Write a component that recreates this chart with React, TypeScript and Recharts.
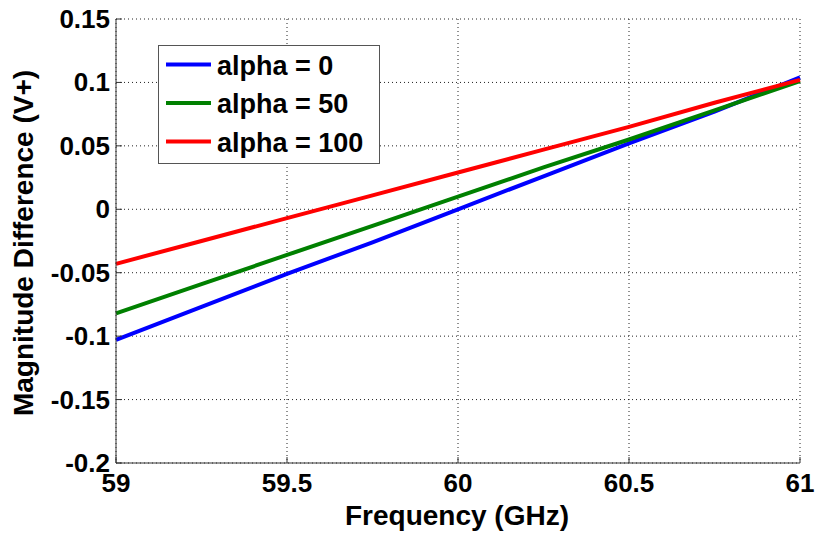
import React from "react";
import {
  LineChart,
  Line,
  XAxis,
  YAxis,
  CartesianGrid,
  Legend,
  Label,
} from "recharts";

const FREQ = [59, 59.25, 59.5, 59.75, 60, 60.25, 60.5, 60.75, 61];
const ALPHA_0 = [-0.103, -0.077, -0.051, -0.026, 0.0, 0.026, 0.052, 0.077, 0.104];
const ALPHA_50 = [-0.082, -0.059, -0.036, -0.013, 0.01, 0.033, 0.055, 0.078, 0.101];
const ALPHA_100 = [-0.043, -0.025, -0.007, 0.011, 0.029, 0.047, 0.065, 0.084, 0.102];

const X_TICKS = [59, 59.5, 60, 60.5, 61];
const Y_TICKS = [-0.2, -0.15, -0.1, -0.05, 0, 0.05, 0.1, 0.15];
const SERIES = [
  { key: "a0", name: "alpha = 0", color: "#0000FF", values: ALPHA_0 },
  { key: "a50", name: "alpha = 50", color: "#008000", values: ALPHA_50 },
  { key: "a100", name: "alpha = 100", color: "#FF0000", values: ALPHA_100 },
];

const FONT = "'Liberation Sans', Arial, Helvetica, sans-serif";
const AXIS = "#333";

const data = FREQ.map((f, i) => {
  const row: any = { f };
  SERIES.forEach((s) => (row[s.key] = s.values[i]));
  return row;
});

const fmt = (v: number) => String(Number(v.toFixed(2)));

const BottomTick = ({ x, y, payload }: any) => (
  <g>
    <line x1={x} y1={y} x2={x} y2={y - 6} stroke={AXIS} />
    <text
      x={x}
      y={y + 29}
      textAnchor="middle"
      fontFamily={FONT}
      fontWeight="bold"
      fontSize={26}
      fill="#000"
    >
      {fmt(payload.value)}
    </text>
  </g>
);

const TopTick = ({ x, y }: any) => (
  <line x1={x} y1={y} x2={x} y2={y + 6} stroke={AXIS} />
);

const LeftTick = ({ x, y, payload }: any) => (
  <g>
    <line x1={x} y1={y} x2={x + 6} y2={y} stroke={AXIS} />
    <text
      x={x - 6}
      y={y + 9}
      textAnchor="end"
      fontFamily={FONT}
      fontWeight="bold"
      fontSize={26}
      fill="#000"
    >
      {fmt(payload.value)}
    </text>
  </g>
);

const RightTick = ({ x, y }: any) => (
  <line x1={x} y1={y} x2={x - 6} y2={y} stroke={AXIS} />
);

const LegendBox = ({ payload }: any) => {
  const order = SERIES.map((s) => s.name);
  const items = [...(payload || [])].sort(
    (a: any, b: any) => order.indexOf(a.value) - order.indexOf(b.value),
  );
  return (
    <svg width={222} height={119} style={{ display: "block" }}>
      <rect x={0.5} y={0.5} width={221} height={118} fill="#fff" stroke="#555" />
      {items.map((p: any, i: number) => {
        const cy = 19.5 + i * 38.5;
        return (
          <g key={p.value}>
            <line x1={8} y1={cy} x2={53} y2={cy} stroke={p.color} strokeWidth={4} />
            <text
              x={59}
              y={cy + 10}
              fontFamily={FONT}
              fontWeight="bold"
              fontSize={27}
              fill="#000"
            >
              {p.value}
            </text>
          </g>
        );
      })}
    </svg>
  );
};

export default function App() {
  return (
    <div style={{ position: "absolute", left: 0, top: 0, background: "#fff" }}>
      <LineChart
        width={817}
        height={533}
        data={data}
        margin={{ top: 19, right: 17, bottom: 0, left: 0 }}
      >
        <CartesianGrid stroke="#222" strokeDasharray="1 3" />
        <XAxis
          dataKey="f"
          type="number"
          domain={[59, 61]}
          ticks={X_TICKS}
          height={70}
          tickSize={0}
          tickMargin={0}
          tick={<BottomTick />}
          axisLine={{ stroke: AXIS }}
          interval={0}
        >
          <Label
            content={() => (
              <text
                x={457}
                y={525}
                textAnchor="middle"
                fontFamily={FONT}
                fontWeight="bold"
                fontSize={28}
                fill="#000"
              >
                Frequency (GHz)
              </text>
            )}
          />
        </XAxis>
        <XAxis
          xAxisId="top"
          orientation="top"
          dataKey="f"
          type="number"
          domain={[59, 61]}
          ticks={X_TICKS}
          height={0}
          tickSize={0}
          tick={<TopTick />}
          axisLine={{ stroke: AXIS }}
          interval={0}
        />
        <YAxis
          type="number"
          domain={[-0.2, 0.15]}
          ticks={Y_TICKS}
          width={116}
          tickSize={0}
          tickMargin={0}
          tick={<LeftTick />}
          axisLine={{ stroke: AXIS }}
          interval={0}
        >
          <Label
            content={() => (
              <text
                x={33}
                y={243}
                transform="rotate(-90, 33, 243)"
                textAnchor="middle"
                fontFamily={FONT}
                fontWeight="bold"
                fontSize={28}
                fill="#000"
              >
                Magnitude Difference (V+)
              </text>
            )}
          />
        </YAxis>
        <YAxis
          yAxisId="right"
          orientation="right"
          type="number"
          domain={[-0.2, 0.15]}
          ticks={Y_TICKS}
          width={0}
          tickSize={0}
          tick={<RightTick />}
          axisLine={{ stroke: AXIS }}
          interval={0}
        />
        <Legend
          layout="vertical"
          verticalAlign="middle"
          align="center"
          content={<LegendBox />}
          wrapperStyle={{ left: 158, top: 45, width: 222, height: 119 }}
        />
        {SERIES.map((s) => (
          <Line
            key={s.key}
            dataKey={s.key}
            name={s.name}
            stroke={s.color}
            strokeWidth={4}
            dot={false}
            type="linear"
            isAnimationActive={false}
          />
        ))}
      </LineChart>
    </div>
  );
}
